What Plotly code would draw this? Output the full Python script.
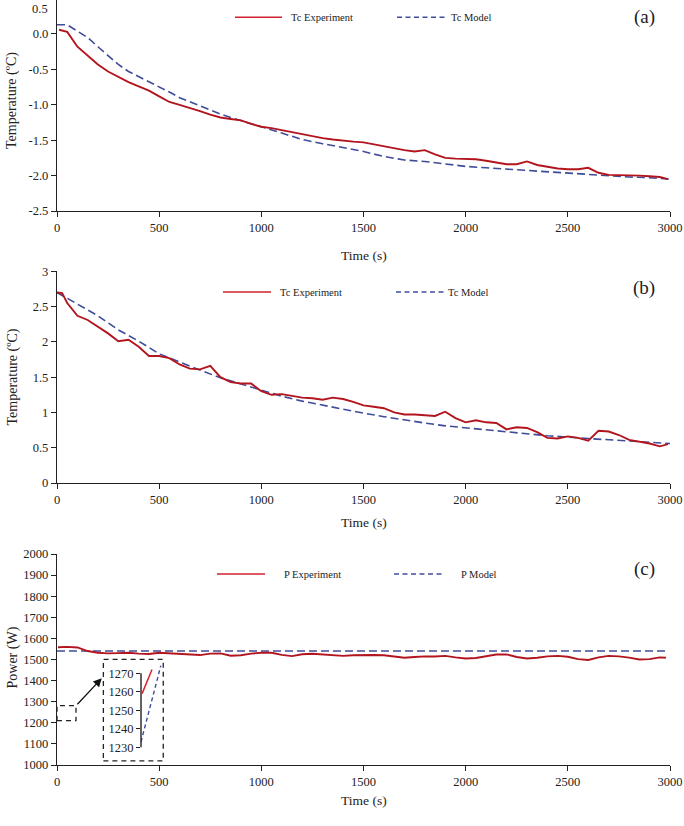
import plotly.graph_objects as go

# ---------------- data ----------------
# Panel (a): Tc, case 1
ta_exp = [10, 50, 100, 150, 200, 250, 300, 350, 400, 450, 500, 550, 600, 650, 700, 750,
          800, 850, 900, 950, 1000, 1050, 1100, 1150, 1200, 1250, 1300, 1350, 1400, 1450,
          1500, 1550, 1600, 1650, 1700, 1750, 1800, 1850, 1900, 1950, 2000, 2050, 2100,
          2150, 2200, 2250, 2300, 2350, 2400, 2450, 2500, 2550, 2600, 2650, 2700, 2750,
          2800, 2850, 2900, 2950, 2990]
va_exp = [0.06, 0.03, -0.18, -0.31, -0.43, -0.53, -0.61, -0.68, -0.74, -0.80, -0.88, -0.96,
          -1.00, -1.04, -1.09, -1.14, -1.18, -1.20, -1.22, -1.27, -1.31, -1.33, -1.36, -1.39,
          -1.42, -1.45, -1.47, -1.49, -1.51, -1.52, -1.53, -1.56, -1.59, -1.61, -1.64, -1.66,
          -1.64, -1.70, -1.75, -1.76, -1.76, -1.77, -1.79, -1.82, -1.84, -1.84, -1.80, -1.85,
          -1.88, -1.90, -1.91, -1.91, -1.89, -1.96, -1.99, -1.99, -2.00, -2.00, -2.01, -2.02,
          -2.05]
ta_mod = [0, 50, 100, 150, 200, 250, 300, 350, 400, 450, 500, 550, 600, 650, 700, 750, 800,
          850, 900, 950, 1000, 1100, 1200, 1300, 1400, 1500, 1600, 1700, 1800, 1900, 2000,
          2100, 2200, 2300, 2400, 2500, 2600, 2700, 2800, 2900, 3000]
va_mod = [0.13, 0.13, 0.04, -0.05, -0.18, -0.31, -0.43, -0.53, -0.60, -0.68, -0.75, -0.82,
          -0.90, -0.96, -1.02, -1.08, -1.13, -1.18, -1.22, -1.27, -1.31, -1.40, -1.49, -1.55,
          -1.60, -1.66, -1.73, -1.78, -1.80, -1.84, -1.87, -1.89, -1.91, -1.93, -1.95, -1.97,
          -1.99, -2.00, -2.02, -2.03, -2.05]

# Panel (b): Tc, case 2
tb_exp = [0, 25, 50, 100, 150, 200, 250, 300, 350, 400, 450, 500, 550, 600, 650, 700, 750,
          800, 850, 900, 950, 1000, 1050, 1100, 1150, 1200, 1250, 1300, 1350, 1400, 1450,
          1500, 1550, 1600, 1650, 1700, 1750, 1800, 1850, 1900, 1950, 2000, 2050, 2100,
          2150, 2200, 2250, 2300, 2350, 2400, 2450, 2500, 2550, 2600, 2650, 2700, 2750,
          2800, 2850, 2900, 2950, 2990]
vb_exp = [2.70, 2.69, 2.55, 2.37, 2.31, 2.22, 2.12, 2.01, 2.03, 1.93, 1.80, 1.80, 1.77, 1.68,
          1.62, 1.61, 1.66, 1.50, 1.43, 1.41, 1.41, 1.30, 1.25, 1.26, 1.23, 1.21, 1.20, 1.18,
          1.21, 1.19, 1.15, 1.10, 1.08, 1.06, 1.00, 0.97, 0.97, 0.96, 0.95, 1.01, 0.92, 0.86,
          0.89, 0.86, 0.85, 0.76, 0.79, 0.78, 0.72, 0.64, 0.63, 0.66, 0.64, 0.60, 0.74, 0.73,
          0.68, 0.61, 0.59, 0.56, 0.52, 0.55]
tb_mod = [0, 100, 200, 300, 400, 500, 600, 700, 800, 900, 1000, 1100, 1200, 1300, 1400, 1500,
          1600, 1700, 1800, 1900, 2000, 2200, 2400, 2600, 2800, 3000]
vb_mod = [2.70, 2.53, 2.37, 2.17, 2.01, 1.83, 1.71, 1.60, 1.49, 1.40, 1.32, 1.23, 1.16, 1.10,
          1.04, 0.99, 0.94, 0.89, 0.85, 0.81, 0.78, 0.72, 0.67, 0.63, 0.60, 0.56]

# Panel (c): power
tc_exp = [5, 50, 100, 150, 200, 250, 300, 350, 400, 450, 500, 550, 600, 650, 700, 750, 800,
          850, 900, 950, 1000, 1050, 1100, 1150, 1200, 1250, 1300, 1350, 1400, 1450, 1500,
          1550, 1600, 1650, 1700, 1750, 1800, 1850, 1900, 1950, 2000, 2050, 2100, 2150,
          2200, 2250, 2300, 2350, 2400, 2450, 2500, 2550, 2600, 2650, 2700, 2750, 2800,
          2850, 2900, 2950, 2980]
vc_exp = [1558, 1560, 1557, 1540, 1532, 1529, 1530, 1532, 1528, 1526, 1532, 1530, 1527, 1524,
          1521, 1528, 1529, 1518, 1520, 1528, 1532, 1532, 1522, 1516, 1525, 1527, 1524, 1518,
          1517, 1520, 1522, 1521, 1520, 1515, 1508, 1512, 1515, 1514, 1517, 1510, 1505, 1507,
          1515, 1524, 1524, 1512, 1505, 1508, 1515, 1517, 1513, 1502, 1498, 1510, 1517, 1515,
          1509, 1500, 1502, 1510, 1508]
tc_mod = [0, 2980]
vc_mod = [1540, 1540]

# inset of panel (c)
ins_x_exp = [0.05, 0.5]
ins_v_exp = [1259, 1272]
ins_x_mod = [0.0, 0.9]
ins_v_mod = [1233, 1274]

x_ticks = [0, 500, 1000, 1500, 2000, 2500, 3000]
ya_ticks = [-2.5, -2.0, -1.5, -1.0, -0.5, 0.0]
ya_text = ["-2.5", "-2.0", "-1.5", "-1.0", "-0.5", "0.0"]
yb_ticks = [0, 0.5, 1, 1.5, 2, 2.5, 3]
yb_text = ["0", "0.5", "1", "1.5", "2", "2.5", "3"]
yc_ticks = [1000, 1100, 1200, 1300, 1400, 1500, 1600, 1700, 1800, 1900, 2000]
ins_ticks = [1230, 1240, 1250, 1260, 1270]

# ---------------- styling ----------------
W, H = 684, 826
FONT = "Liberation Serif"
RED = "#B3151F"
RED_LEG = "#D0222E"
BLUE = "#3F4C9A"
AX = "#222222"


def fx(p):
    return p / W


def fy(p):
    return 1 - p / H


fig = go.Figure()

exp_line = dict(color=RED, width=1.9)
mod_line = dict(color=BLUE, width=1.6, dash="8px,4px")

fig.add_trace(go.Scatter(x=ta_mod, y=va_mod, mode="lines", line=mod_line, xaxis="x", yaxis="y"))
fig.add_trace(go.Scatter(x=ta_exp, y=va_exp, mode="lines", line=exp_line, xaxis="x", yaxis="y"))
fig.add_trace(go.Scatter(x=tb_mod, y=vb_mod, mode="lines", line=mod_line, xaxis="x2", yaxis="y2"))
fig.add_trace(go.Scatter(x=tb_exp, y=vb_exp, mode="lines", line=exp_line, xaxis="x2", yaxis="y2"))
fig.add_trace(go.Scatter(x=tc_mod, y=vc_mod, mode="lines", line=mod_line, xaxis="x3", yaxis="y3"))
fig.add_trace(go.Scatter(x=tc_exp, y=vc_exp, mode="lines", line=exp_line, xaxis="x3", yaxis="y3"))
fig.add_trace(go.Scatter(x=ins_x_exp, y=ins_v_exp, mode="lines",
                         line=dict(color="#D8232F", width=1.5), xaxis="x4", yaxis="y4"))
fig.add_trace(go.Scatter(x=ins_x_mod, y=ins_v_mod, mode="lines",
                         line=dict(color=BLUE, width=1.4, dash="4px,3px"), xaxis="x4", yaxis="y4"))

XDOM = [fx(57), fx(670)]
tickfont = dict(family=FONT, size=12.5, color=AX)
common_x = dict(domain=XDOM, range=[0, 3000], tickvals=x_ticks, showline=True, linecolor=AX,
                linewidth=1.3, ticks="outside", ticklen=5, tickwidth=1.2, tickcolor=AX,
                showgrid=False, zeroline=False, tickfont=tickfont, automargin=False)
common_y = dict(showline=True, linecolor=AX, linewidth=1.3, ticks="outside", ticklen=5,
                tickwidth=1.2, tickcolor=AX, showgrid=False, zeroline=False, tickfont=tickfont,
                automargin=False)

fig.update_layout(
    template="none",
    width=W, height=H, margin=dict(l=0, r=0, t=0, b=0, pad=0, autoexpand=False),
    paper_bgcolor="white", plot_bgcolor="white", showlegend=False,
    font=dict(family=FONT, color=AX),
    xaxis=dict(common_x, anchor="y"),
    yaxis=dict(common_y, anchor="x", domain=[fy(211), 1.0], range=[-2.5, 0.48],
               tickvals=ya_ticks, ticktext=ya_text),
    xaxis2=dict(common_x, anchor="y2"),
    yaxis2=dict(common_y, anchor="x2", domain=[fy(483), fy(271.3)], range=[0, 3],
                tickvals=yb_ticks, ticktext=yb_text),
    xaxis3=dict(common_x, anchor="y3"),
    yaxis3=dict(common_y, anchor="x3", domain=[fy(765), fy(554)], range=[1000, 2000],
                tickvals=yc_ticks),
    xaxis4=dict(domain=[fx(141), fx(163)], range=[0, 1], visible=False, anchor="y4",
                automargin=False),
    yaxis4=dict(domain=[fy(747.5), fy(662)], range=[1230, 1276], anchor="x4",
                showline=False, ticks="outside", ticklen=4, tickwidth=1.2, tickcolor=AX,
                tickvals=ins_ticks, showgrid=False, zeroline=False, tickfont=tickfont,
                automargin=False),
)

shapes = []
annotations = []

# inset axis line
shapes.append(dict(type="line", xref="x4 domain", yref="y4", x0=0, x1=0, y0=1230, y1=1270,
                   line=dict(color=AX, width=1.4)))
# dashed boxes in panel (c)
box_dash = dict(color=AX, width=1.3, dash="5px,4px")
shapes.append(dict(type="rect", xref="x3", yref="y3", x0=0, x1=93, y0=1210, y1=1281,
                   line=box_dash))
shapes.append(dict(type="rect", xref="x3", yref="y3", x0=227, x1=520, y0=1020, y1=1501,
                   line=box_dash))
annotations.append(dict(xref="x3", yref="y3", axref="x3", ayref="y3", x=219, y=1411,
                        ax=93, ay=1281, text="", showarrow=True, arrowhead=2,
                        arrowsize=1.3, arrowwidth=1.3, arrowcolor="#111111"))

# legends (manual)
leg_font = dict(family=FONT, size=10.5, color=AX)
legends = [
    (17.3, 235, 282, 289, "Tc Experiment", 397, 446, 449, "Tc Model"),
    (292.0, 223, 271, 278, "Tc Experiment", 396, 444, 446, "Tc Model"),
    (574.0, 217, 265, 282, "P Experiment", 394, 442, 459, "P Model"),
]
for (ly, r0, r1, rt, rtext, b0, b1, bt, btext) in legends:
    shapes.append(dict(type="line", xref="paper", yref="paper", x0=fx(r0), x1=fx(r1),
                       y0=fy(ly), y1=fy(ly), line=dict(color=RED_LEG, width=1.5)))
    shapes.append(dict(type="line", xref="paper", yref="paper", x0=fx(b0), x1=fx(b1),
                       y0=fy(ly), y1=fy(ly), line=dict(color=BLUE, width=1.4, dash="5px,3.5px")))
    annotations.append(dict(xref="paper", yref="paper", x=fx(rt), y=fy(ly), xanchor="left",
                            yanchor="middle", text=rtext, showarrow=False, font=leg_font))
    annotations.append(dict(xref="paper", yref="paper", x=fx(bt), y=fy(ly), xanchor="left",
                            yanchor="middle", text=btext, showarrow=False, font=leg_font))

# panel labels
for lab, ly in [("(a)", 16.7), ("(b)", 288.3), ("(c)", 569.3)]:
    annotations.append(dict(xref="paper", yref="paper", x=fx(644), y=fy(ly), text=lab,
                            showarrow=False, xanchor="center", yanchor="middle",
                            font=dict(family=FONT, size=19, color=AX)))

# axis titles
title_font = dict(family=FONT, size=14, color=AX)
for ly in [255, 522, 800.5]:
    annotations.append(dict(xref="paper", yref="paper", x=fx(364), y=fy(ly), text="Time (s)",
                            showarrow=False, xanchor="center", yanchor="middle",
                            font=dict(family=FONT, size=13.5, color=AX)))
for txt, ly in [("Temperature (ºC)", 101), ("Temperature (ºC)", 377.5), ("Power (W)", 657.5)]:
    annotations.append(dict(xref="paper", yref="paper", x=fx(12), y=fy(ly), text=txt,
                            textangle=-90, showarrow=False, xanchor="center",
                            yanchor="middle", font=title_font))

# top tick label of panel (a) (sits at the very top edge of the page)
annotations.append(dict(xref="paper", yref="paper", x=fx(50), y=1.0, text="0.5",
                        showarrow=False, xanchor="right", yanchor="top", font=tickfont))

fig.update_layout(shapes=shapes, annotations=annotations)
fig.write_html("out.html")
